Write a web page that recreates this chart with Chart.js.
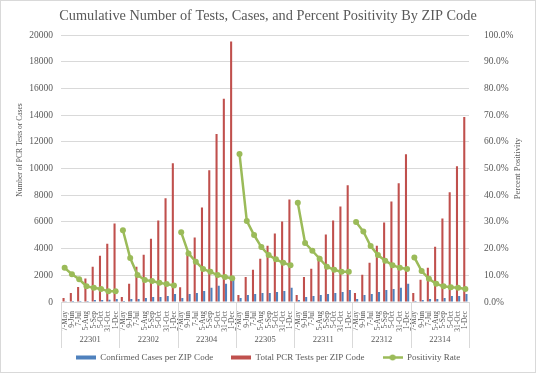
<!DOCTYPE html>
<html>
<head>
<meta charset="utf-8">
<script src="https://cdn.jsdelivr.net/npm/chart.js@4.4.0/dist/chart.umd.min.js"></script>
<style>
    body { margin: 0; background: #fff; }
    #wrap { width: 536px; height: 373px; box-sizing: border-box; border: 1px solid #d9d9d9; }
</style>
</head>
<body>
<div id="wrap"><canvas id="chart" width="534" height="371"></canvas></div>
<script>
// Categories
const zips = ['22301', '22302', '22304', '22305', '22311', '22312', '22314'];
const dates = ['7-May', '9-Jun', '7-Jul', '5-Aug', '5-Sep', '5-Oct', '31-Oct', '1-Dec'];

// One row per ZIP code, one value per date
const confirmedCases = [
    50, 75, 75, 75, 150, 150, 175, 225,
    75, 225, 225, 300, 380, 380, 450, 600,
    300, 600, 680, 830, 1060, 1210, 1360, 1660,
    300, 530, 600, 680, 680, 750, 830, 1060,
    150, 380, 450, 530, 600, 680, 750, 900,
    225, 530, 600, 750, 900, 980, 1060, 1360,
    75, 150, 225, 225, 300, 450, 450, 600
];

const totalTests = [
    300, 680, 1130, 1760, 2640, 3470, 4370, 5880,
    380, 1360, 2640, 3540, 4750, 6100, 7770, 10400,
    1100, 3600, 4830, 7090, 9880, 12590, 15230, 19530,
    530, 1880, 2410, 3240, 4220, 5130, 6030, 7690,
    530, 1880, 2490, 3470, 5050, 6110, 7160, 8750,
    680, 2040, 2940, 4220, 5960, 7540, 8900, 11080,
    680, 1660, 2560, 4150, 6260, 8220, 10180, 13870
];

// percent
const positivityRate = [
    12.8, 10.4, 8.5, 5.9, 5.3, 4.9, 4.0, 4.0,
    26.9, 16.5, 10.1, 8.2, 7.9, 7.2, 6.7, 6.2,
    26.1, 18.2, 15.1, 12.4, 11.3, 10.1, 9.4, 8.9,
    55.5, 30.4, 25.1, 20.6, 17.6, 16.0, 14.7, 13.8,
    37.2, 22.1, 19.2, 16.2, 13.2, 12.1, 11.3, 11.3,
    30.0, 26.4, 21.0, 17.6, 15.5, 13.8, 12.8, 12.4,
    16.7, 11.6, 8.7, 6.8, 5.9, 5.5, 5.3, 4.9
];

const BLUE = '#4F81BD';
const RED = '#C0504D';
const GREEN = '#9BBB59';
const TEXT = '#595959';
const GRID = '#d9d9d9';
const FONT = "'Liberation Serif', serif";

const labels = zips.flatMap(() => dates);

function legendIcon(kind, color) {
    const c = document.createElement('canvas');
    c.width = 20;
    c.height = 7;
    const g = c.getContext('2d');
    g.fillStyle = color;
    g.strokeStyle = color;
    if (kind === 'bar') {
        g.fillRect(0, 1.5, 20, 4);
    } else {
        g.lineWidth = 2.5;
        g.beginPath();
        g.moveTo(0, 3.5);
        g.lineTo(20, 3.5);
        g.stroke();
        g.beginPath();
        g.arc(10, 3.5, 3, 0, Math.PI * 2);
        g.fill();
    }
    return c;
}

function drawRotated(ctx, text, x, y, size) {
    ctx.save();
    ctx.font = `${size}px ${FONT}`;
    ctx.fillStyle = TEXT;
    ctx.textAlign = 'center';
    ctx.textBaseline = 'middle';
    ctx.translate(x, y);
    ctx.rotate(-Math.PI / 2);
    ctx.fillText(text, 0, 0);
    ctx.restore();
}

// ZIP code row under the date labels, separators between groups, axis titles
const zipGroups = {
    id: 'zipGroups',
    afterDraw(chart) {
        const x = chart.scales.x;
        const ctx = chart.ctx;
        const n = dates.length;
        const half = (x.getPixelForValue(1) - x.getPixelForValue(0)) / 2;
        ctx.save();
        ctx.strokeStyle = GRID;
        ctx.lineWidth = 1;
        for (let g = 0; g <= zips.length; g++) {
            const px = Math.round(x.getPixelForValue(g * n) - half) + 0.5;
            ctx.beginPath();
            ctx.moveTo(px, x.top);
            ctx.lineTo(px, x.top + 46);
            ctx.stroke();
        }
        ctx.fillStyle = TEXT;
        ctx.font = `8.5px ${FONT}`;
        ctx.textAlign = 'center';
        ctx.textBaseline = 'middle';
        zips.forEach((zip, g) => {
            const cx = (x.getPixelForValue(g * n) + x.getPixelForValue(g * n + n - 1)) / 2;
            ctx.fillText(zip, cx, x.top + 38);
        });
        ctx.restore();

        const area = chart.chartArea;
        drawRotated(ctx, 'Number of PCR Tests or Cases', 19, 149, 7.5);
        drawRotated(ctx, 'Percent Positivity', 517, (area.top + area.bottom) / 2, 8.7);
    }
};

new Chart(document.getElementById('chart'), {
    type: 'bar',
    data: {
        labels: labels,
        datasets: [{
            label: 'Confirmed Cases per ZIP Code',
            data: confirmedCases,
            backgroundColor: BLUE,
            yAxisID: 'y',
            order: 2,
            barPercentage: 0.95,
            categoryPercentage: 0.6
        }, {
            label: 'Total PCR Tests per ZIP Code',
            data: totalTests,
            backgroundColor: RED,
            yAxisID: 'y',
            order: 1,
            barPercentage: 0.95,
            categoryPercentage: 0.6
        }, {
            type: 'line',
            label: 'Positivity Rate',
            data: positivityRate,
            yAxisID: 'y2',
            order: 0,
            borderColor: GREEN,
            backgroundColor: GREEN,
            borderWidth: 2.5,
            pointRadius: 3,
            pointBorderWidth: 0,
            pointBackgroundColor: GREEN,
            tension: 0,
            segment: {
                borderColor: c => (c.p0DataIndex + 1) % dates.length === 0 ? 'rgba(0,0,0,0)' : GREEN
            }
        }]
    },
    options: {
        responsive: false,
        animation: false,
        devicePixelRatio: 1,
        layout: { padding: { left: 0, right: 0, top: 0, bottom: 0 } },
        plugins: {
            title: {
                display: true,
                text: 'Cumulative Number of Tests, Cases, and Percent Positivity By ZIP Code',
                color: TEXT,
                font: { family: FONT, size: 14.3, weight: 'normal' },
                padding: { top: 7, bottom: 10 }
            },
            legend: {
                position: 'bottom',
                labels: {
                    usePointStyle: true,
                    pointStyleWidth: 20,
                    color: TEXT,
                    font: { family: FONT, size: 9 },
                    padding: 18,
                    generateLabels: (chart) => chart.data.datasets.map((ds, i) => ({
                        text: ds.label,
                        datasetIndex: i,
                        fontColor: TEXT,
                        lineWidth: 0,
                        strokeStyle: 'rgba(0,0,0,0)',
                        pointStyle: legendIcon(ds.type === 'line' ? 'line' : 'bar', ds.backgroundColor)
                    }))
                }
            },
            tooltip: { enabled: false }
        },
        scales: {
            x: {
                grid: { display: false },
                border: { display: false },
                ticks: {
                    autoSkip: false,
                    minRotation: 90,
                    maxRotation: 90,
                    padding: 1,
                    color: TEXT,
                    font: { family: FONT, size: 7.5 }
                },
                afterFit: (scale) => { scale.height = 33; }
            },
            y: {
                position: 'left',
                min: 0,
                max: 20000,
                grid: { color: GRID, drawTicks: false },
                border: { display: false },
                ticks: {
                    stepSize: 2000,
                    padding: 8,
                    color: TEXT,
                    font: { family: FONT, size: 9.5 },
                    callback: (v) => String(v)
                },
                afterFit: (scale) => { scale.width = 60; }
            },
            y2: {
                position: 'right',
                min: 0,
                max: 100,
                grid: { display: false },
                border: { display: false },
                ticks: {
                    stepSize: 10,
                    padding: 7,
                    color: TEXT,
                    font: { family: FONT, size: 9.5 },
                    callback: (v) => v.toFixed(1) + '%'
                },
                afterFit: (scale) => { scale.width = 66; }
            }
        }
    },
    plugins: [zipGroups]
});
</script>
</body>
</html>
